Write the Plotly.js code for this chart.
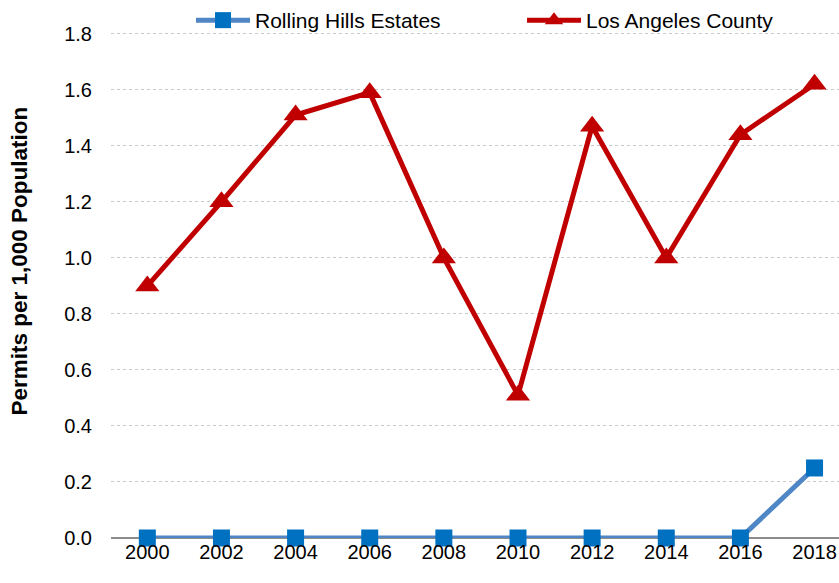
<!DOCTYPE html>
<html>
<head>
<meta charset="utf-8">
<script src="https://cdn.plot.ly/plotly-3.0.1.min.js"></script>
<style>html,body{margin:0;padding:0;background:#fff;}#chart{width:839px;height:583px;}</style>
</head>
<body>
<div id="chart"></div>
<script>
const years = ["2000","2002","2004","2006","2008","2010","2012","2014","2016","2018"];
const rollingHills = [0, 0, 0, 0, 0, 0, 0, 0, 0, 0.25];
const laCounty = [0.90, 1.20, 1.51, 1.59, 1.00, 0.51, 1.47, 1.00, 1.44, 1.62];
const yTicks = [0, 0.2, 0.4, 0.6, 0.8, 1.0, 1.2, 1.4, 1.6, 1.8];
const yTitle = "Permits per 1,000 Population";

const idx = years.map((_, i) => i);
const font = "'Liberation Sans', Arial, sans-serif";

const traces = [
  {
    x: idx, y: rollingHills, name: "Rolling Hills Estates", type: "scatter", mode: "lines+markers",
    line: {color: "#4F86C6", width: 5},
    marker: {symbol: "square", size: 17, color: "#0070C0"},
    legendwidth: 262, cliponaxis: false
  },
  {
    x: idx, y: laCounty, name: "Los Angeles County", type: "scatter", mode: "lines+markers",
    line: {color: "#C00000", width: 5},
    marker: {symbol: "triangle-up", size: 21, color: "#C00000"},
    legendwidth: 200, cliponaxis: false
  }
];

const layout = {
  width: 839, height: 583,
  margin: {l: 111, r: 0, t: 0, b: 45},
  paper_bgcolor: "#fff", plot_bgcolor: "#fff",
  font: {family: font, size: 19, color: "#000"},
  showlegend: true,
  legend: {
    orientation: "h", x: 0.1099, xanchor: "left", y: 0.968, yanchor: "middle",
    font: {family: font, size: 21, color: "#000"},
    itemwidth: 54, entrywidthmode: "pixels", bgcolor: "rgba(0,0,0,0)"
  },
  xaxis: {
    range: [-0.49, 9.33], tickvals: idx, ticktext: years,
    showgrid: false, zeroline: false, showline: false, ticks: "",
    tickfont: {family: font, size: 20, color: "#000"}
  },
  yaxis: {
    range: [0, 1.91], tickvals: yTicks, ticktext: yTicks.map(v => v.toFixed(1)),
    showgrid: true, gridcolor: "#C8C8C8", griddash: "dot", gridwidth: 1,
    zeroline: true, zerolinecolor: "#8C8C8C", zerolinewidth: 2,
    showline: false, ticks: "", ticklen: 0, ticklabelstandoff: 18,
    tickfont: {family: font, size: 20, color: "#000"}
  },
  annotations: [{
    text: "<b>" + yTitle + "</b>", textangle: -90, showarrow: false,
    xref: "paper", yref: "paper", x: -0.125, y: 0.5167, xanchor: "center", yanchor: "middle",
    font: {family: font, size: 22.5, color: "#000"}
  }]
};

Plotly.newPlot("chart", traces, layout, {displayModeBar: false, responsive: false});
</script>
</body>
</html>
